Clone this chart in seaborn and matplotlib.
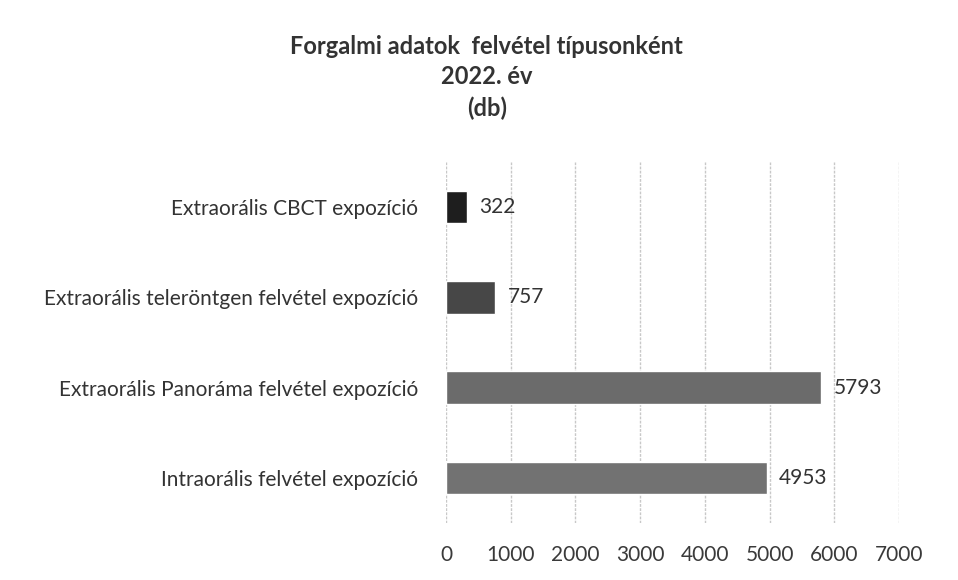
import matplotlib
matplotlib.use("Agg")
import matplotlib.pyplot as plt
import seaborn as sns
import pandas as pd

categories = [
    "Extraorális CBCT expozíció",
    "Extraorális teleröntgen felvétel expozíció",
    "Extraorális Panoráma felvétel expozíció",
    "Intraorális felvétel expozíció",
]
values = [322, 757, 5793, 4953]
xticks = [0, 1000, 2000, 3000, 4000, 5000, 6000, 7000]
title = "Forgalmi adatok  felvétel típusonként\n2022. év\n(db)"

bar_colors = ["#1e1e1e", "#474747", "#6b6b6b", "#727272"]

sns.set_theme(style="white")
plt.rcParams["font.family"] = ["Lato", "DejaVu Sans"]

df = pd.DataFrame({"cat": categories, "val": values})

fig = plt.figure(figsize=(9.58, 5.8), dpi=100)
ax = fig.add_axes([0.4656, 0.0983, 0.4728, 0.6224])

sns.barplot(data=df, x="val", y="cat", hue="cat", palette=bar_colors,
            width=0.36, legend=False, ax=ax, orient="h", saturation=1)

ax.set_xlim(0, 7000)
ax.set_xticks(xticks)
ax.set_xticklabels([str(t) for t in xticks])
ax.grid(axis="x", color="#c8c8c8", linewidth=1.0, linestyle=(0, (2, 1)))
ax.set_axisbelow(True)
for s in ax.spines.values():
    s.set_visible(False)
ax.set_xlabel("")
ax.set_ylabel("")
ax.tick_params(axis="x", length=0, pad=16, labelsize=15, labelcolor="#3a3a3a")
ax.tick_params(axis="y", length=0, pad=20, labelsize=15, labelcolor="#333333")

for cont in ax.containers:
    ax.bar_label(cont, fmt="%d", padding=9, fontsize=15, color="#333333")

fig.text(0.508, 0.94, title, ha="center", va="top", fontsize=17,
         fontweight="bold", color="#333333", linespacing=1.4)

fig.savefig("out.png", dpi=100, facecolor="white")
